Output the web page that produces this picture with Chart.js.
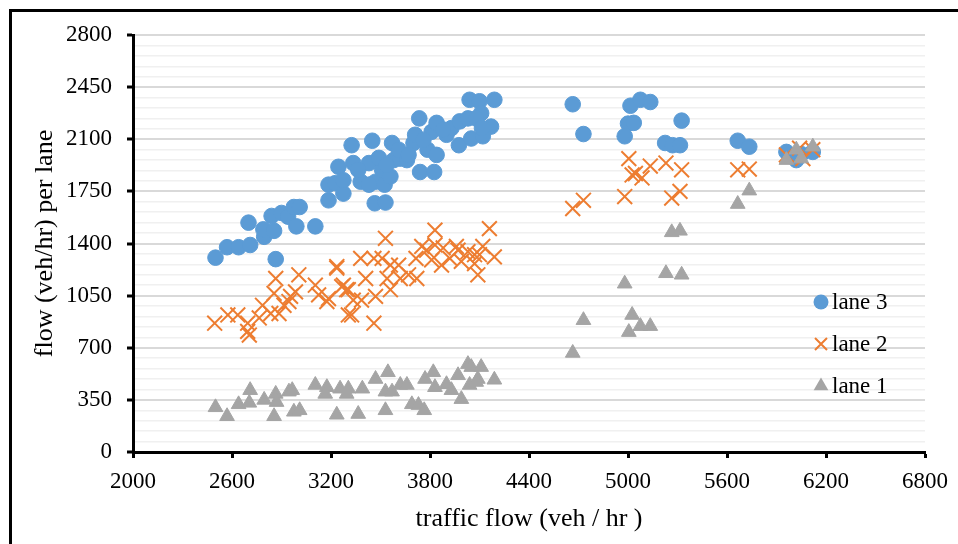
<!DOCTYPE html>
<html>
<head>
<meta charset="utf-8">
<title>flow per lane</title>
<script src="https://cdn.jsdelivr.net/npm/chart.js@4.4.1/dist/chart.umd.min.js"></script>
<style>
  html, body { margin: 0; padding: 0; background: #fff; overflow: hidden; }
  #wrap { position: relative; width: 958px; height: 544px; }
  #frame {
    position: absolute; left: 9px; top: 9px; width: 1000px; height: 600px;
    border-left: 3px solid #000; border-top: 3px solid #000; pointer-events: none;
  }
</style>
</head>
<body>
<div id="wrap">
  <canvas id="flowChart" width="958" height="544"></canvas>
  <div id="frame"></div>
</div>
<script>
// --- dati ---
const seriesNames = ['lane 3', 'lane 2', 'lane 1'];

const lane3X = [2500, 2570, 2640, 2710, 2700, 2795, 2790, 2855, 2840, 2865, 2900, 2940, 2975, 3010, 2990, 3105,
  3185, 3185, 3225, 3275, 3245, 3325, 3335, 3380, 3430, 3450, 3465, 3530, 3470, 3510, 3525, 3570, 3580, 3560, 3620, 3660,
  3700, 3710, 3735, 3740, 3785, 3810, 3825, 3840, 3840, 3900, 3930, 3975, 3980, 4030, 4050, 4040, 4100, 4120, 4110, 4190, 4170,
  3275, 3365, 3430, 3490, 3535, 3610, 3670, 3760, 3880, 4080, 4115,
  4665, 4730, 5015, 5075, 5135, 5000, 5035, 4980, 5325, 5225, 5270, 5315, 5665, 5735, 5960, 6020, 6120, 6050];
const lane3Y = [1305, 1375, 1375, 1390, 1540, 1445, 1495, 1485, 1585, 1295, 1605, 1580, 1645, 1645, 1515, 1515,
  1690, 1795, 1805, 1735, 1915, 2060, 1940, 1815, 1940, 2090, 1670, 1675, 1815, 1895, 1795, 2075, 1960, 1850, 1970, 1960,
  2075, 2130, 2240, 1880, 2030, 2150, 1880, 2210, 1995, 2130, 2175, 2060, 2220, 2240, 2105, 2365, 2355, 2120, 2275, 2365, 2185,
  1825, 1895, 1795, 1975, 1925, 2030, 1995, 2095, 2165, 2240, 2175,
  2335, 2135, 2325, 2365, 2350, 2205, 2210, 2120, 2225, 2075, 2060, 2060, 2090, 2050, 2015, 1960, 2015, 2000];

const lane2X = [2495, 2575, 2635, 2695, 2695, 2705, 2765, 2785, 2855, 2865, 2835, 2885, 2915, 2945, 2955, 2985, 3005, 3105, 3175, 3185, 3235, 3265, 3295, 3305,
  3235, 3530, 3380, 3460, 3510, 3275, 3305, 3325, 3460, 3385, 3410, 3470, 3540, 3560, 3610, 3670, 3620, 3720, 3750, 3780,
  3830, 3830, 3810, 3870, 3920, 3960, 3990, 4030, 4070, 4090, 4120, 4160, 4190, 4070, 4100,
  3125, 3335, 3560, 3715, 3880, 3970,
  4665, 4730, 4980, 5005, 5025, 5045, 5085, 5135, 5230, 5325, 5265, 5315, 5665, 5735, 5960, 6040, 6120, 6060];
const lane2Y = [865, 920, 920, 865, 810, 785, 900, 985, 1065, 1165, 930, 930, 985, 1010, 1045, 1075, 1190, 1120, 1010, 1030, 1235, 1110, 1090, 920,
  1245, 1435, 1300, 1300, 1300, 1120, 1090, 920, 865, 1020, 1165, 1045, 1165, 1090, 1255, 1190, 1165, 1165, 1380, 1355,
  1490, 1390, 1290, 1255, 1300, 1380, 1280, 1345, 1265, 1190, 1380, 1500, 1310, 1325, 1325,
  1055, 1020, 1255, 1300, 1370, 1355,
  1635, 1690, 1715, 1970, 1860, 1870, 1840, 1920, 1940, 1895, 1705, 1750, 1895, 1900, 1995, 2040, 2030, 1970];

const lane1X = [2500, 2570, 2640, 2710, 2705, 2795, 2855, 2865, 2870, 2945, 2965, 2975, 3010, 3105, 3175, 3165, 3235, 3255, 3295,
  3305, 3390, 3365, 3470, 3545, 3530, 3570, 3530, 3620, 3660, 3690, 3730, 3765, 3770, 3820, 3830, 3900, 3930, 3990, 3970,
  4030, 4050, 4110, 4090, 4190, 4040, 4080,
  4980, 5230, 5325, 4730, 4665, 5025, 5005, 5075, 5135, 5665, 5735, 5265, 5315, 5960, 6020, 6050, 6120];
const lane1Y = [300, 240, 320, 415, 330, 350, 240, 390, 335, 405, 415, 270, 280, 450, 435, 390, 250, 425, 390,
  425, 425, 255, 490, 535, 405, 405, 280, 450, 450, 320, 315, 280, 490, 535, 435, 455, 415, 355, 515,
  590, 570, 570, 490, 485, 450, 470,
  1130, 1200, 1190, 885, 665, 920, 805, 845, 845, 1665, 1755, 1475, 1485, 1960, 2030, 1970, 2050];

// assi
const xMin = 2000, xMax = 6800, xStep = 600;
const yMin = 0, yMax = 2800, yMajor = 350, yMinor = 70;

const FONT = "'Liberation Serif', 'Times New Roman', serif";

function toPoints(xs, ys) {
  return xs.map((x, i) => ({ x: x, y: ys[i] }));
}

// disegna il simbolo della legenda come quello del dataset
function drawMarker(ctx, ds, x, y) {
  ctx.save();
  ctx.fillStyle = ds.backgroundColor;
  ctx.strokeStyle = ds.borderColor;
  ctx.lineWidth = ds.borderWidth;
  ctx.beginPath();
  if (ds.pointStyle === 'circle') {
    ctx.arc(x, y, 7.5, 0, Math.PI * 2);
    ctx.fill();
  } else if (ds.pointStyle === 'crossRot') {
    const d = 6;
    ctx.moveTo(x - d, y - d); ctx.lineTo(x + d, y + d);
    ctx.moveTo(x - d, y + d); ctx.lineTo(x + d, y - d);
    ctx.stroke();
  } else {
    const r = 8.5;
    ctx.moveTo(x, y - r);
    ctx.lineTo(x + r * 0.866, y + r * 0.5);
    ctx.lineTo(x - r * 0.866, y + r * 0.5);
    ctx.closePath();
    ctx.fill();
  }
  ctx.restore();
}

const insideLegend = {
  id: 'insideLegend',
  afterDraw(chart) {
    const ctx = chart.ctx;
    const area = chart.chartArea;
    const mx = area.right - 104;
    let y = area.top + 267;
    ctx.save();
    ctx.font = '23px ' + FONT;
    ctx.fillStyle = '#000';
    ctx.textBaseline = 'middle';
    ctx.textAlign = 'left';
    chart.data.datasets.forEach(ds => {
      drawMarker(ctx, ds, mx, y);
      ctx.fillText(ds.label, mx + 11, y + 1);
      y += 42;
    });
    ctx.restore();
  }
};

document.addEventListener('DOMContentLoaded', function () {
  const ctx = document.getElementById('flowChart').getContext('2d');

  new Chart(ctx, {
    type: 'scatter',
    data: {
      datasets: [
        {
          label: seriesNames[0], data: toPoints(lane3X, lane3Y), order: 3,
          pointStyle: 'circle', pointRadius: 7.8, pointHoverRadius: 7.8,
          backgroundColor: '#5B9BD5', borderColor: '#5B9BD5', borderWidth: 1
        },
        {
          label: seriesNames[1], data: toPoints(lane2X, lane2Y), order: 2,
          pointStyle: 'crossRot', pointRadius: 10.5, pointHoverRadius: 10.5,
          backgroundColor: '#ED7D31', borderColor: '#ED7D31', borderWidth: 2
        },
        {
          label: seriesNames[2], data: toPoints(lane1X, lane1Y), order: 1,
          pointStyle: 'triangle', pointRadius: 8.5, pointHoverRadius: 8.5,
          backgroundColor: '#A5A5A5', borderColor: '#A5A5A5', borderWidth: 1
        }
      ]
    },
    options: {
      responsive: false,
      animation: false,
      devicePixelRatio: 1,
      layout: { padding: { left: 0, right: 28, top: 35, bottom: 0 } },
      plugins: {
        legend: { display: false },
        tooltip: { enabled: false }
      },
      scales: {
        x: {
          type: 'linear', min: xMin, max: xMax,
          afterFit: (scale) => { scale.height = 92; },
          border: { color: '#000', width: 3 },
          grid: { drawOnChartArea: false, tickLength: 6, tickColor: '#000', tickWidth: 3 },
          ticks: {
            stepSize: xStep, autoSkip: false, maxRotation: 0, padding: 10,
            color: '#000', font: { family: FONT, size: 23 },
            callback: (v) => String(v)
          },
          title: {
            display: true, text: 'traffic flow (veh / hr )', color: '#000',
            font: { family: FONT, size: 26 }, padding: { top: 0, bottom: 9 }
          }
        },
        y: {
          type: 'linear', min: yMin, max: yMax,
          afterFit: (scale) => { scale.width = 133; },
          border: { color: '#000', width: 3 },
          grid: {
            color: (c) => (c.tick && c.tick.value % yMajor === 0) ? '#d9d9d9' : '#f0f0f0',
            lineWidth: (c) => (c.tick && c.tick.value % yMajor === 0) ? 2 : 1.5,
            tickColor: (c) => (c.tick && c.tick.value % yMajor === 0) ? '#000' : 'rgba(0,0,0,0)',
            tickWidth: 3, tickLength: 6
          },
          ticks: {
            stepSize: yMinor, maxTicksLimit: 100, autoSkip: false, padding: 15,
            color: '#000', font: { family: FONT, size: 23 },
            callback: (v) => (v % yMajor === 0 ? String(v) : '')
          },
          title: {
            display: true, text: 'flow (veh/hr) per lane', color: '#000',
            font: { family: FONT, size: 26 }, padding: { top: 30, bottom: 0 }
          }
        }
      }
    },
    plugins: [insideLegend]
  });
});
</script>
</body>
</html>
